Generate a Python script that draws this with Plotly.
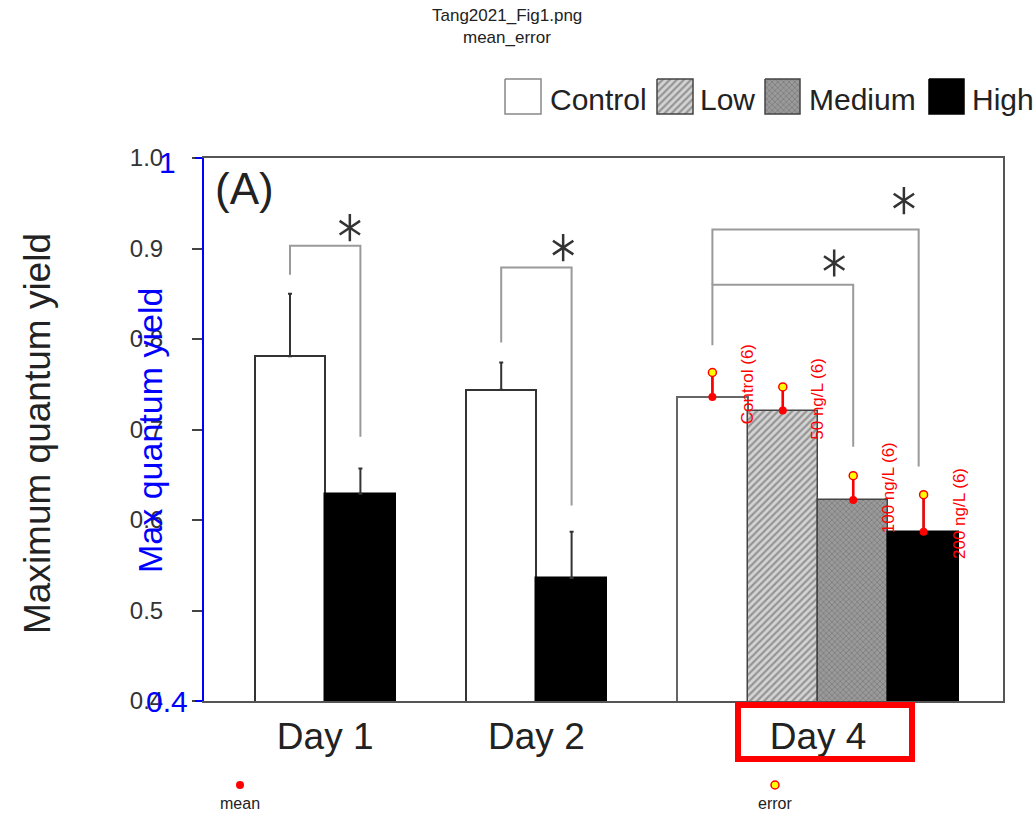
import plotly.graph_objects as go

# ---------------- data ----------------
days = ["Day 1", "Day 2", "Day 4"]
groups = ["Control", "Low", "Medium", "High"]

control_mean = [0.781, 0.744, 0.736]
control_err = [0.069, 0.030, 0.026]
low_mean = [None, None, 0.721]
low_err = [None, None, 0.026]
medium_mean = [None, None, 0.622]
medium_err = [None, None, 0.028]
high_mean = [0.629, 0.536, 0.587]
high_err = [0.028, 0.051, 0.041]

y_tick_vals = [0.4, 0.5, 0.6, 0.7, 0.8, 0.9, 1.0]
y_tick_text = ["0.4", "0.5", "0.6", "0.7", "0.8", "0.9", "1.0"]

# digitised overlay (Day 4)
dig_labels = ["Control (6)", "50 ng/L (6)", "100 ng/L (6)", "200 ng/L (6)"]
dig_mean = [0.736, 0.721, 0.622, 0.587]
dig_error = [0.763, 0.747, 0.649, 0.628]
blue_tick_vals = [0.4, 1.0]
blue_tick_text = ["0.4", "1"]

# significance brackets: left x, right x, top y, left end y, right end y (slot units)
br_left = [0, 3, 6, 6]
br_right = [1, 4, 8, 8.93]
br_top = [0.903, 0.879, 0.860, 0.921]
br_left_end = [0.871, 0.796, 0.793, 0.860]
br_right_end = [0.692, 0.616, 0.681, 0.659]
star_x = [0.85, 3.88, 7.73, 8.72]
star_y = [0.923, 0.901, 0.884, 0.953]

# ---------------- geometry ----------------
W, H = 1035, 813
FX0, FX1, FY0, FY1 = 204, 1003, 158, 701
SLOT0, SLOTW = 290.0, 70.4
FONT = "Liberation Sans, Arial, sans-serif"


def px(x):
    return x / W


def py(y):
    return 1 - y / H


day_start = [0, 3, 6]
means = [control_mean, low_mean, medium_mean, high_mean]
errs = [control_err, low_err, medium_err, high_err]

positions = {g: [] for g in groups}
for d in range(len(days)):
    k = 0
    for gi, g in enumerate(groups):
        if means[gi][d] is not None:
            positions[g].append(day_start[d] + k)
            k += 1

styles = {
    "Control": dict(color="white", line=dict(color=["#333", "#333", "#666"], width=2)),
    "Low": dict(color="#cfcfcf", line=dict(color="#444", width=1.5),
                pattern=dict(shape="/", fgcolor="#555", bgcolor="#d4d4d4", size=5, solidity=0.45)),
    "Medium": dict(color="#8a8a8a", line=dict(color="#444", width=1.5),
                   pattern=dict(shape="x", fgcolor="#5a5a5a", bgcolor="#9a9a9a", size=4, solidity=0.35)),
    "High": dict(color="black", line=dict(color="black", width=1.5)),
}

fig = go.Figure()

for gi, g in enumerate(groups):
    ys = [v for v in means[gi] if v is not None]
    es = [v for v in errs[gi] if v is not None]
    fig.add_trace(go.Bar(
        x=positions[g], y=ys, width=1.0, name=g, marker=styles[g],
        error_y=dict(type="data", array=es, arrayminus=[0] * len(es), symmetric=False,
                     color="#333", thickness=2, width=2),
        xaxis="x", yaxis="y", showlegend=False))

# brackets
bx, byy = [], []
for i in range(len(br_left)):
    bx += [br_left[i], br_left[i], br_right[i], br_right[i], None]
    byy += [br_left_end[i], br_top[i], br_top[i], br_right_end[i], None]
fig.add_trace(go.Scatter(x=bx, y=byy, mode="lines", line=dict(color="#9a9a9a", width=2),
                         xaxis="x", yaxis="y", showlegend=False, hoverinfo="skip"))
for sym in ["y-up-open", "y-down-open"]:
    fig.add_trace(go.Scatter(x=star_x, y=star_y, mode="markers",
                             marker=dict(symbol=sym, size=17, color="#333",
                                         line=dict(color="#333", width=2.5)),
                             xaxis="x", yaxis="y", showlegend=False, hoverinfo="skip"))

# overlay (blue axis)
dpos = positions["Control"][2:] + positions["Low"] + positions["Medium"] + positions["High"][2:]
sx, sy = [], []
for p, m, e in zip(dpos, dig_mean, dig_error):
    sx += [p, p, None]
    sy += [m, e, None]
fig.add_trace(go.Scatter(x=sx, y=sy, mode="lines", line=dict(color="red", width=2.5),
                         xaxis="x", yaxis="y2", showlegend=False))
fig.add_trace(go.Scatter(x=dpos, y=dig_mean, mode="markers",
                         marker=dict(color="red", size=8), xaxis="x", yaxis="y2", showlegend=False))
fig.add_trace(go.Scatter(x=dpos, y=dig_error, mode="markers",
                         marker=dict(color="yellow", size=8, line=dict(color="red", width=1.5)),
                         xaxis="x", yaxis="y2", showlegend=False))
fig.add_trace(go.Scatter(x=[None], y=[None], xaxis="x", yaxis="y3", showlegend=False))

annotations = []
for p, m, e, t in zip(dpos, dig_mean, dig_error, dig_labels):
    annotations.append(dict(x=p + 0.5, y=(m + e) / 2, xref="x", yref="y", text=t, textangle=-90,
                            showarrow=False, font=dict(family=FONT, size=17, color="red"),
                            xanchor="center", yanchor="middle"))

# pixel-space helper axes for legend decorations
legend_boxes = [(505, 541), (657, 693), (765, 800), (929, 964)]
legend_text_x = [548, 698, 807, 970]
for gi, g in enumerate(groups):
    x0, x1 = legend_boxes[gi]
    st = styles[g]
    kw = dict(fillcolor=st["color"])
    if "pattern" in st:
        kw["fillpattern"] = st["pattern"]
    lc = "#888" if g == "Control" else st["line"]["color"]
    fig.add_trace(go.Scatter(x=[x0, x1, x1, x0, x0], y=[79, 79, 114, 114, 79], mode="lines",
                             fill="toself", line=dict(color=lc, width=1.5), xaxis="x2", yaxis="y4",
                             showlegend=False, hoverinfo="skip", **kw))
    annotations.append(dict(x=px(legend_text_x[gi]), y=py(99), xref="paper", yref="paper", text=g,
                            showarrow=False, xanchor="left", yanchor="middle",
                            font=dict(family=FONT, size=30, color="#222")))

# bottom legend (mean / error)
fig.add_trace(go.Scatter(x=[240], y=[785], mode="markers", marker=dict(color="red", size=8),
                         xaxis="x2", yaxis="y4", showlegend=False))
fig.add_trace(go.Scatter(x=[775], y=[785], mode="markers",
                         marker=dict(color="yellow", size=8, line=dict(color="red", width=1.5)),
                         xaxis="x2", yaxis="y4", showlegend=False))
for t, x in [("mean", 240), ("error", 775)]:
    annotations.append(dict(x=px(x), y=py(803), xref="paper", yref="paper", text=t, showarrow=False,
                            xanchor="center", yanchor="middle", font=dict(family=FONT, size=16, color="#222")))

# titles / labels
annotations += [
    dict(x=px(507), y=py(16), xref="paper", yref="paper", text="Tang2021_Fig1.png", showarrow=False,
         font=dict(family=FONT, size=17, color="#222"), xanchor="center", yanchor="middle"),
    dict(x=px(507), y=py(37), xref="paper", yref="paper", text="mean_error", showarrow=False,
         font=dict(family=FONT, size=17, color="#222"), xanchor="center", yanchor="middle"),
    dict(x=px(244), y=py(189), xref="paper", yref="paper", text="(A)", showarrow=False,
         font=dict(family=FONT, size=44, color="#222"), xanchor="center", yanchor="middle"),
    dict(x=px(37), y=py(434), xref="paper", yref="paper", text="Maximum quantum yield", showarrow=False,
         textangle=-90, font=dict(family=FONT, size=37, color="#222"), xanchor="center", yanchor="middle"),
    dict(x=px(150), y=py(431), xref="paper", yref="paper", text="Max quantum yield", showarrow=False,
         textangle=-90, font=dict(family=FONT, size=34, color="blue"), xanchor="center", yanchor="middle"),
]
for v, t, dy in zip(blue_tick_vals, blue_tick_text, [0, -4]):
    annotations.append(dict(x=px(167), y=v, xref="paper", yref="y", text=t, showarrow=False,
                            xanchor="center", yanchor="middle", yshift=dy,
                            font=dict(family=FONT, size=30, color="blue")))

xdom = [px(FX0), px(FX1)]
ydom = [py(FY1), py(FY0)]
xr = [(FX0 - SLOT0) / SLOTW, (FX1 - SLOT0) / SLOTW]

fig.update_layout(
    width=W, height=H, margin=dict(l=0, r=0, t=0, b=0, pad=0, autoexpand=False), autosize=False,
    plot_bgcolor="rgba(0,0,0,0)", paper_bgcolor="white", showlegend=False, bargap=0,
    xaxis=dict(domain=xdom, range=xr, tickvals=[0.5, 3.5, 7.5], ticktext=days, ticks="",
               tickfont=dict(family=FONT, size=37, color="#222"), showline=True, mirror=True,
               linecolor="#555", linewidth=2, showgrid=False, zeroline=False, anchor="y",
               ticklabelstandoff=2, automargin=False),
    yaxis=dict(domain=ydom, range=[0.4, 1.0], tickvals=y_tick_vals, ticktext=y_tick_text,
               ticks="outside", ticklen=10, tickwidth=1.5, tickcolor="#444",
               tickfont=dict(family=FONT, size=24, color="#333"), showline=True, mirror=True,
               linecolor="#555", linewidth=2, showgrid=False, zeroline=False, anchor="x",
               ticklabelstandoff=24, automargin=False),
    yaxis2=dict(domain=ydom, range=[0.4, 1.0], overlaying="y", side="left", anchor="x",
                showline=True, linecolor="blue", linewidth=2, ticks="outside", ticklen=7,
                tickwidth=2, tickcolor="blue", tickvals=blue_tick_vals, showticklabels=False,
                showgrid=False, zeroline=False, automargin=False),
    yaxis3=dict(domain=ydom, range=[0.4, 1.0], overlaying="y", side="left", anchor="x",
                showline=False, ticks="inside", ticklen=7, tickwidth=2, tickcolor="blue",
                tickvals=blue_tick_vals, showticklabels=False, showgrid=False, zeroline=False,
                automargin=False),
    xaxis2=dict(domain=[0, 1], range=[0, W], visible=False, anchor="y4", automargin=False),
    yaxis4=dict(domain=[0, 1], range=[H, 0], visible=False, anchor="x2", automargin=False),
    annotations=annotations,
    shapes=[dict(type="rect", xref="paper", yref="paper", x0=px(738), x1=px(912), y0=py(759), y1=py(705),
                 line=dict(color="red", width=6), fillcolor="rgba(0,0,0,0)")],
)

fig.write_html("out.html")
